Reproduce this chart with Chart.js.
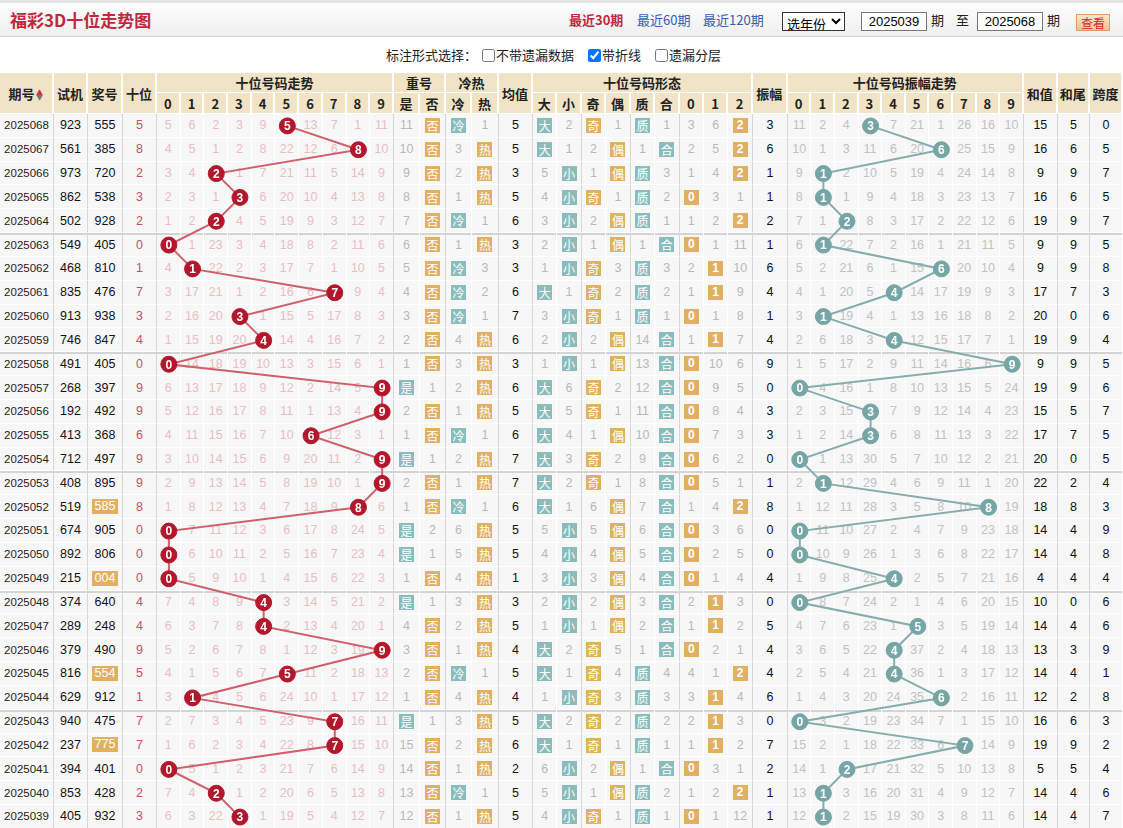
<!DOCTYPE html>
<html>
<head>
<meta charset="utf-8">
<title>福彩3D十位走势图</title>
<script src="https://cdn.jsdelivr.net/npm/chart.js@4.4.1/dist/chart.umd.min.js"></script>
<style>
*{box-sizing:border-box}
body{margin:0;width:1123px;height:828px;overflow:hidden;background:#fff;font-family:"Liberation Sans","DejaVu Sans","Noto Sans CJK SC",sans-serif;color:#222}
.top{position:relative;height:37px;border-top:3px solid #e4e4e4;border-bottom:1px solid #d4d4d4;background:linear-gradient(#fdfdfd,#efefef)}
.top span,.top select,.top input,.top button{position:absolute}
.title{left:10px;top:5px;font:bold 17px/24px "Noto Sans CJK SC";color:#c0283c}
.nav{top:7px;font:13px/20px "Noto Sans CJK SC";color:#2f62b0}
.nav.on{color:#c0283c}
.top select{left:782px;top:9px;width:63px;height:19px;font:13px "Noto Sans CJK SC";border:1px solid #333;background:#fff;padding:0}
.top input{top:9px;width:66px;height:19px;border:1px solid #777;font:13px "Liberation Sans";text-align:center;padding:0}
.lbl{top:7px;font:13px/20px "Noto Sans CJK SC";color:#222}
.top button{left:1076px;top:11px;width:34px;height:17px;border:1px solid #e39866;background:linear-gradient(#fde6d2,#f7be93);color:#d02b2b;font:12px/14px "Noto Sans CJK SC";padding:0}
.opt{height:36px;line-height:36px;padding-left:386px;font:13px/36px "Noto Sans CJK SC";color:#222}
.opt input{margin:0 1px 0 14px;vertical-align:-2px;width:13px;height:13px}
.opt input.first{margin-left:5px}
#wrap{position:relative}
table{border-collapse:separate;border-spacing:0;table-layout:fixed;width:1123px}
th{background:#f1e4c6;font:bold 13px "Noto Sans CJK SC";color:#222;border-right:2px solid #fff;border-bottom:1px solid #fff;padding:0;text-align:center}
tr.h1 th{height:18px}
tr.h2 th{height:21px}
td{height:23.83px;padding:0;text-align:center;background:#f7f7f7;border-right:1px solid #fff;border-bottom:1px solid #fff;font-size:12.5px;color:#111;white-space:nowrap}
td.g{border-right:1px solid #d6d6d6}
tr.gs td{box-shadow:inset 0 2px 0 #d4d4d4}
td.pd{font-size:11.5px;color:#222}
td.tw{color:#c8505f}
td.mt{color:#e8bfc1}
td.mm{color:#b9b9b9}
td.ma{color:#c2c2c2}
.bd{display:inline-block;width:15px;height:15px;line-height:15px;font:12px/15px "Noto Sans CJK SC";color:#fff;vertical-align:middle}
.bd.n{font:bold 12px/15px "Liberation Sans"}
.o{background:#e2b062}
.t{background:#8bbcbc}
.zs{display:inline-block;background:#e2b062;color:#fff;padding:0 3px;line-height:15px}
.sort{display:inline-block;width:8px;vertical-align:middle;line-height:5px;font-size:7px;margin-left:1px}
.sort i{display:block;font-style:normal}
canvas{position:absolute;pointer-events:none}
</style>
</head>
<body>
<div class="top">
  <span class="title">福彩3D十位走势图</span>
  <span class="nav on" style="left:569px;font-weight:bold">最近30期</span>
  <span class="nav" style="left:637px">最近60期</span>
  <span class="nav" style="left:703px">最近120期</span>
  <select><option>选年份</option></select>
  <input style="left:861px" value="2025039">
  <span class="lbl" style="left:931px">期</span>
  <span class="lbl" style="left:956px">至</span>
  <input style="left:977px" value="2025068">
  <span class="lbl" style="left:1047px">期</span>
  <button>查看</button>
</div>
<div class="opt">标注形式选择：<input type="checkbox" class="first">不带遗漏数据<input type="checkbox" checked>带折线<input type="checkbox">遗漏分层</div>
<div id="wrap">
  <table id="tb"><colgroup id="cols"></colgroup><thead id="th"></thead><tbody id="tbody"></tbody></table>
  <canvas id="trendChart"></canvas>
  <canvas id="ampChart"></canvas>
</div>
<script>
// ---- data (newest first) ----
const periods = ['2025068','2025067','2025066','2025065','2025064','2025063','2025062','2025061','2025060','2025059',
                 '2025058','2025057','2025056','2025055','2025054','2025053','2025052','2025051','2025050','2025049',
                 '2025048','2025047','2025046','2025045','2025044','2025043','2025042','2025041','2025040','2025039'];
const trialNums = ['923','561','973','862','502','549','468','835','913','746','491','268','192','413','712',
                   '408','519','674','892','215','374','289','379','816','629','940','237','394','853','405'];
const prizeNums = ['555','385','720','538','928','405','810','476','938','847','405','397','492','368','497',
                   '895','585','905','806','004','640','248','490','554','912','475','775','401','428','932'];
const tensDigits = [5,8,2,3,2,0,1,7,3,4,0,9,9,6,9,9,8,0,0,0,4,4,9,5,1,7,7,0,2,3];
const digitLabels = ['0','1','2','3','4','5','6','7','8','9'];
const tensMiss = [
  [5,6,2,3,9,0,13,7,1,11],[4,5,1,2,8,22,12,6,0,10],[3,4,0,1,7,21,11,5,14,9],[2,3,1,0,6,20,10,4,13,8],[1,2,0,4,5,19,9,3,12,7],
  [0,1,23,3,4,18,8,2,11,6],[4,0,22,2,3,17,7,1,10,5],[3,17,21,1,2,16,6,0,9,4],[2,16,20,0,1,15,5,17,8,3],[1,15,19,20,0,14,4,16,7,2],
  [0,14,18,19,10,13,3,15,6,1],[6,13,17,18,9,12,2,14,5,0],[5,12,16,17,8,11,1,13,4,0],[4,11,15,16,7,10,0,12,3,1],[3,10,14,15,6,9,20,11,2,0],
  [2,9,13,14,5,8,19,10,1,0],[1,8,12,13,4,7,18,9,0,6],[0,7,11,12,3,6,17,8,24,5],[0,6,10,11,2,5,16,7,23,4],[0,5,9,10,1,4,15,6,22,3],
  [7,4,8,9,0,3,14,5,21,2],[6,3,7,8,0,2,13,4,20,1],[5,2,6,7,8,1,12,3,19,0],[4,1,5,6,7,0,11,2,18,13],[3,0,4,5,6,24,10,1,17,12],
  [2,7,3,4,5,23,9,0,16,11],[1,6,2,3,4,22,8,0,15,10],[0,5,1,2,3,21,7,6,14,9],[7,4,0,1,2,20,6,5,13,8],[6,3,22,0,1,19,5,4,12,7]
];
const repeatHit = [0,0,0,0,0,0,0,0,0,0,0,1,0,0,1,0,0,1,1,0,1,0,0,0,0,1,0,0,0,0];
const repeatMiss = [11,10,9,8,7,6,5,4,3,2,1,1,2,1,1,2,1,2,1,1,1,4,3,2,1,1,15,14,13,12];
const coldHit = [1,0,0,0,1,0,1,1,1,0,0,0,0,1,0,0,1,0,0,0,0,0,0,1,0,0,0,0,1,0];
const heatMiss = [1,3,2,1,1,1,3,2,1,4,3,2,1,1,2,1,1,6,5,4,3,2,1,1,4,3,2,1,1,1];
const avgVals = [5,5,3,5,6,3,3,6,7,6,3,6,5,6,7,7,6,5,5,1,3,5,4,5,4,5,6,2,5,5];
const sizeMiss = [2,1,5,4,3,2,1,1,3,2,1,6,5,4,3,2,1,5,4,3,2,1,2,1,1,2,1,6,5,4];
const parityMiss = [1,2,1,1,2,1,3,2,1,2,1,2,1,1,2,1,6,5,4,3,2,1,5,4,3,2,1,2,1,1];
const primeMiss = [1,1,3,2,1,1,3,2,1,14,13,12,11,10,9,8,7,6,5,4,3,2,1,4,3,2,1,1,2,1];
const routeMiss = [
  [3,6,0],[2,5,0],[1,4,0],[0,3,1],[1,2,0],[0,1,11],[2,0,10],[1,0,9],[0,1,8],[1,0,7],
  [0,10,6],[0,9,5],[0,8,4],[0,7,3],[0,6,2],[0,5,1],[1,4,0],[0,3,6],[0,2,5],[0,1,4],
  [2,0,3],[1,0,2],[0,2,1],[4,1,0],[3,0,4],[2,0,3],[1,0,2],[0,3,1],[1,2,0],[0,1,12]
];
const ampVals = [3,6,1,1,2,1,6,4,1,4,9,0,3,3,0,1,8,0,0,4,0,5,4,4,6,0,7,2,1,1];
const ampMiss = [
  [11,2,4,0,7,21,1,26,16,10],[10,1,3,11,6,20,0,25,15,9],[9,0,2,10,5,19,4,24,14,8],[8,0,1,9,4,18,3,23,13,7],[7,1,0,8,3,17,2,22,12,6],
  [6,0,22,7,2,16,1,21,11,5],[5,2,21,6,1,15,0,20,10,4],[4,1,20,5,0,14,17,19,9,3],[3,0,19,4,1,13,16,18,8,2],[2,6,18,3,0,12,15,17,7,1],
  [1,5,17,2,9,11,14,16,6,0],[0,4,16,1,8,10,13,15,5,24],[2,3,15,0,7,9,12,14,4,23],[1,2,14,0,6,8,11,13,3,22],[0,1,13,30,5,7,10,12,2,21],
  [2,0,12,29,4,6,9,11,1,20],[1,12,11,28,3,5,8,10,0,19],[0,11,10,27,2,4,7,9,23,18],[0,10,9,26,1,3,6,8,22,17],[1,9,8,25,0,2,5,7,21,16],
  [0,8,7,24,2,1,4,6,20,15],[4,7,6,23,1,0,3,5,19,14],[3,6,5,22,0,37,2,4,18,13],[2,5,4,21,0,36,1,3,17,12],[1,4,3,20,24,35,0,2,16,11],
  [0,3,2,19,23,34,7,1,15,10],[15,2,1,18,22,33,6,0,14,9],[14,1,0,17,21,32,5,10,13,8],[13,0,3,16,20,31,4,9,12,7],[12,0,2,15,19,30,3,8,11,6]
];
const sumVals = [15,16,9,16,19,9,9,17,20,19,9,19,15,17,20,22,18,14,14,4,10,14,13,14,12,16,19,5,14,14];
const sumTails = [5,6,9,6,9,9,9,7,0,9,9,9,5,7,0,2,8,4,4,4,0,4,3,4,2,6,9,5,4,4];
const spanVals = [0,5,7,5,7,5,8,3,6,4,5,6,7,5,5,4,3,9,8,4,6,6,9,1,8,3,2,4,6,7];

// ---- layout ----
const colW = [54,34,35,34].concat(Array(10).fill(23.7),[26,26,26,27,34],Array(9).fill(24.44),[35],Array(10).fill(23.6),[34,32,33]);
const grayRight = new Set([0,1,2,3,13,15,17,18,20,22,24,27,28,38,39,40]);
const primes = [1,2,3,5,7];

document.getElementById('cols').innerHTML = colW.map(w => '<col style="width:'+w+'px">').join('');

const digitTh = digitLabels.map(d => '<th>'+d+'</th>').join('');
document.getElementById('th').innerHTML =
  '<tr class="h1"><th rowspan="2">期号<span class="sort"><i style="color:#d0303a">▲</i><i style="color:#777">▼</i></span></th>'+
  '<th rowspan="2">试机</th><th rowspan="2">奖号</th><th rowspan="2">十位</th>'+
  '<th colspan="10">十位号码走势</th><th colspan="2">重号</th><th colspan="2">冷热</th><th rowspan="2">均值</th>'+
  '<th colspan="9">十位号码形态</th><th rowspan="2">振幅</th><th colspan="10">十位号码振幅走势</th>'+
  '<th rowspan="2">和值</th><th rowspan="2">和尾</th><th rowspan="2">跨度</th></tr>'+
  '<tr class="h2">'+digitTh+'<th>是</th><th>否</th><th>冷</th><th>热</th>'+
  '<th>大</th><th>小</th><th>奇</th><th>偶</th><th>质</th><th>合</th><th>0</th><th>1</th><th>2</th>'+digitTh+'</tr>';

function badge(txt, cls, num){ return '<span class="bd '+cls+(num?' n':'')+'">'+txt+'</span>'; }
function pair(hitFirst, a, b, miss, clsA, clsB){
  return hitFirst ? [[badge(a,clsA),''],[miss,'mm']] : [[miss,'mm'],[badge(b,clsB),'']];
}

let rowsHtml = '';
periods.forEach((p, i) => {
  const t = tensDigits[i];
  const cells = [];
  cells.push([p,'pd'], [trialNums[i],''], [new Set(prizeNums[i]).size === 2 ? '<span class="zs">'+prizeNums[i]+'</span>' : prizeNums[i],''], [t,'tw']);
  tensMiss[i].forEach((v, d) => cells.push([d === t ? '' : v, 'mt']));
  cells.push(...pair(repeatHit[i], '是', '否', repeatMiss[i], 't', 'o'));
  cells.push(...pair(coldHit[i], '冷', '热', heatMiss[i], 't', 'o'));
  cells.push([avgVals[i],'']);
  cells.push(...pair(t >= 5, '大', '小', sizeMiss[i], 't', 't'));
  cells.push(...pair(t % 2 === 1, '奇', '偶', parityMiss[i], 'o', 'o'));
  cells.push(...pair(primes.includes(t), '质', '合', primeMiss[i], 't', 't'));
  routeMiss[i].forEach((v, r) => cells.push(r === t % 3 ? [badge(r,'o',true),''] : [v,'mm']));
  cells.push([ampVals[i],'']);
  ampMiss[i].forEach((v, d) => cells.push([d === ampVals[i] ? '' : v, 'ma']));
  cells.push([sumVals[i],''], [sumTails[i],''], [spanVals[i],'']);
  rowsHtml += '<tr'+(i % 5 === 0 && i > 0 ? ' class="gs"' : '')+'>'+
    cells.map((c, k) => '<td class="'+c[1]+(grayRight.has(k)?' g':'')+'">'+c[0]+'</td>').join('')+'</tr>';
});
document.getElementById('tbody').innerHTML = rowsHtml;

// ---- Chart.js overlays for the two broken-line trend areas ----
const circleLabels = {
  id: 'circleLabels',
  afterDatasetsDraw(chart) {
    const ctx = chart.ctx, meta = chart.getDatasetMeta(0), ds = chart.data.datasets[0];
    ctx.save();
    ctx.fillStyle = '#fff';
    ctx.font = 'bold 12px "Liberation Sans"';
    ctx.textAlign = 'center';
    ctx.textBaseline = 'middle';
    meta.data.forEach((pt, i) => ctx.fillText(digitLabels[ds.data[i].x], pt.x, pt.y + 1));
    ctx.restore();
  }
};

function placeChart(id, firstCol, values, lineColor, dotColor) {
  const wrap = document.getElementById('wrap').getBoundingClientRect();
  const body = document.getElementById('tbody');
  const a = body.rows[0].cells[firstCol].getBoundingClientRect();
  const b = body.rows[body.rows.length - 1].cells[firstCol + 9].getBoundingClientRect();
  const cv = document.getElementById(id);
  cv.style.left = (a.left - wrap.left) + 'px';
  cv.style.top = (a.top - wrap.top) + 'px';
  cv.width = Math.round(b.right - a.left);
  cv.height = Math.round(b.bottom - a.top);
  new Chart(cv, {
    type: 'line',
    data: { datasets: [{
      data: values.map((v, i) => ({ x: v, y: i })),
      borderColor: lineColor,
      borderWidth: 2,
      tension: 0,
      pointRadius: 8,
      pointBackgroundColor: dotColor,
      pointBorderColor: dotColor,
      pointBorderWidth: 1
    }]},
    options: {
      responsive: false,
      animation: false,
      events: [],
      clip: false,
      layout: { padding: 0, autoPadding: false },
      plugins: { legend: { display: false }, tooltip: { enabled: false } },
      scales: {
        x: { type: 'linear', min: -0.5, max: 9.5, display: false },
        y: { type: 'linear', min: -0.5, max: values.length - 0.5, reverse: true, display: false }
      }
    },
    plugins: [circleLabels]
  });
}

placeChart('trendChart', 4, tensDigits, '#cf5f6b', '#b3172c');
placeChart('ampChart', 29, ampVals, '#86adad', '#76a5a5');
</script>
</body>
</html>
